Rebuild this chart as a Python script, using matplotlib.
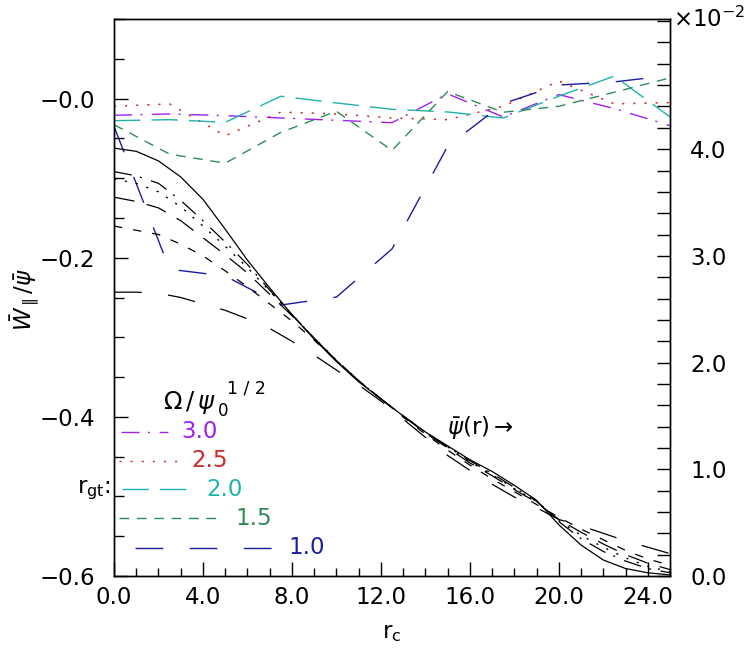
import matplotlib.pyplot as plt
from matplotlib.ticker import MultipleLocator

plt.rcParams['font.family'] = 'DejaVu Sans'
plt.rcParams['mathtext.fontset'] = 'dejavusans'
plt.rcParams['lines.scale_dashes'] = False

# W_par / psi for each r_gt value (left axis)
r_c = [0, 2.5, 5, 7.5, 10, 12.5, 15, 17.5, 20, 22.5, 25]
w_30 = [-0.021, -0.0193, -0.0215, -0.0244, -0.0273, -0.0303, 0.006, -0.0231, 0.005, -0.0126, -0.034]
w_25 = [-0.0097, -0.0067, -0.0467, -0.017, -0.0193, -0.0244, -0.0265, -0.0097, 0.022, -0.0067, -0.005]
w_20 = [-0.0278, -0.0265, -0.0299, 0.0029, -0.0055, -0.0135, -0.0168, -0.0244, 0.003, 0.0282, -0.0231]
w_15 = [-0.0328, -0.0698, -0.0812, -0.0425, -0.016, -0.0652, 0.0088, -0.0172, -0.0097, 0.008, 0.026]
w_10 = [-0.035, -0.2145, -0.223, -0.2595, -0.2495, -0.189, -0.060, -0.0063, 0.017, 0.021, 0.029]

# averaged psi profiles (right axis, x 1e-2)
r_psi = list(range(26))
psi_ref = [4.01, 3.98, 3.89, 3.74, 3.53, 3.25, 2.96, 2.70, 2.45, 2.22, 2.01, 1.82, 1.66,
           1.50, 1.35, 1.22, 1.09, 0.98, 0.85, 0.71, 0.48, 0.29, 0.15, 0.07, 0.03, 0.01]
psi_30 = [3.79, 3.75, 3.68, 3.52, 3.33, 3.13, 2.92, 2.68, 2.45, 2.23, 2.02, 1.83, 1.66,
          1.50, 1.35, 1.21, 1.08, 0.96, 0.83, 0.70, 0.51, 0.35, 0.23, 0.14, 0.07, 0.03]
psi_25 = [3.72, 3.68, 3.60, 3.46, 3.28, 3.09, 2.89, 2.67, 2.45, 2.23, 2.02, 1.83, 1.66,
          1.50, 1.35, 1.21, 1.07, 0.95, 0.82, 0.70, 0.52, 0.38, 0.27, 0.17, 0.09, 0.04]
psi_20 = [3.55, 3.51, 3.45, 3.33, 3.17, 3.01, 2.84, 2.64, 2.44, 2.23, 2.02, 1.83, 1.66,
          1.50, 1.34, 1.20, 1.06, 0.94, 0.81, 0.69, 0.53, 0.41, 0.30, 0.20, 0.12, 0.06]
psi_15 = [3.28, 3.24, 3.20, 3.11, 3.00, 2.86, 2.71, 2.55, 2.39, 2.21, 2.02, 1.83, 1.66,
          1.49, 1.33, 1.18, 1.04, 0.91, 0.79, 0.67, 0.55, 0.44, 0.34, 0.24, 0.16, 0.10]
psi_10 = [2.66, 2.66, 2.65, 2.61, 2.55, 2.49, 2.41, 2.32, 2.20, 2.07, 1.93, 1.79, 1.64,
          1.47, 1.30, 1.13, 0.99, 0.86, 0.74, 0.64, 0.53, 0.47, 0.40, 0.33, 0.27, 0.21]

legend_labels = ['3.0', '2.5', '2.0', '1.5', '1.0']

purple = '#a020f0'
red = '#cc2929'
cyan = '#20b2aa'
green = '#2e8b57'
blue = '#1c1ca0'

ls_dashdot = (0, (13, 6, 1.5, 7))
ls_dot = (0, (1.5, 6.5))
ls_long = (0, (19, 8))
ls_dash = (0, (7, 5.5))
ls_vlong = (0, (20, 19))

fs = 16.5

fig = plt.figure(figsize=(7.47, 6.56), dpi=100)
ax = fig.add_axes([114 / 747, 80 / 656, 556 / 747, 557 / 656])
ax2 = ax.twinx()

# coloured W curves
ax.plot(r_c, w_30, color=purple, lw=1.0, ls=ls_dashdot)
ax.plot(r_c, w_25, color=red, lw=1.1, ls=ls_dot)
ax.plot(r_c, w_20, color=cyan, lw=1.0, ls=ls_long)
ax.plot(r_c, w_15, color=green, lw=1.0, ls=ls_dash)
ax.plot(r_c, w_10, color=blue, lw=1.0, ls=ls_vlong)

# black psi curves
ax2.plot(r_psi, psi_ref, color='black', lw=0.9)
ax2.plot(r_psi, psi_30, color='black', lw=0.9, ls=ls_dashdot)
ax2.plot(r_psi, psi_25, color='black', lw=1.0, ls=ls_dot)
ax2.plot(r_psi, psi_20, color='black', lw=0.9, ls=(0, (15, 9)))
ax2.plot(r_psi, psi_15, color='black', lw=0.9, ls=(0, (6, 8)))
ax2.plot(r_psi, psi_10, color='black', lw=0.9, ls=ls_vlong)

# axes, ticks
ax.set_xlim(0, 25)
ax.set_ylim(-0.6, 0.1)
ax2.set_ylim(0, 5.22)

ax.set_xticks([0, 4, 8, 12, 16, 20, 24])
ax.set_xticklabels(['0.0', '4.0', '8.0', '12.0', '16.0', '20.0', '24.0'])
ax.xaxis.set_minor_locator(MultipleLocator(1))
ax.set_yticks([-0.6, -0.4, -0.2, 0.0])
ax.set_yticklabels(['\u22120.6', '\u22120.4', '\u22120.2', '\u22120.0'])
ax.yaxis.set_minor_locator(MultipleLocator(0.05))
ax2.set_yticks([0, 1, 2, 3, 4])
ax2.set_yticklabels(['0.0', '1.0', '2.0', '3.0', '4.0'])
ax2.yaxis.set_minor_locator(MultipleLocator(0.2))

ax.tick_params(axis='x', which='both', direction='in', top=False, labelsize=fs, pad=7.5, width=1)
ax.tick_params(axis='x', which='major', length=10)
ax.tick_params(axis='x', which='minor', length=6)
ax.tick_params(axis='y', which='both', direction='in', right=False, labelsize=fs, pad=13.5, width=1)
ax.tick_params(axis='y', which='major', length=10)
ax.tick_params(axis='y', which='minor', length=7)
ax2.tick_params(axis='y', which='both', direction='in', labelsize=fs, pad=14.5, width=1, length=9.5)

for a in (ax, ax2):
    for s in a.spines.values():
        s.set_linewidth(1.0)

# labels
fig.text(25 / 747, 0.543, r'$\bar{W}_{\parallel}/\bar{\psi}$', rotation=90,
         ha='center', va='center', fontsize=fs)
ax.set_xlabel(r'r$_{\rm c}$', fontsize=fs, labelpad=8)
fig.text(673 / 747, 1 - 27 / 656, r'$\times10^{-2}$', ha='left', va='baseline', fontsize=fs)
ax.text(0.599, 0.2675, r'$\bar{\psi}$(r)$\rightarrow$', transform=ax.transAxes,
        ha='left', va='center', fontsize=fs)

# legend, drawn by hand
ax.text(0.088, 0.312, r'$\Omega\,/\,\psi$', transform=ax.transAxes,
        ha='left', va='center', fontsize=17.5)
ax.text(0.187, 0.296, '0', transform=ax.transAxes,
        ha='left', va='center', fontsize=12)
ax.text(0.204, 0.336, '1 / 2', transform=ax.transAxes,
        ha='left', va='center', fontsize=12.5)
ax.text(-0.006, 0.154, r'r$_{\rm gt}$:', transform=ax.transAxes,
        ha='right', va='center', fontsize=fs, clip_on=False)
leg_colors = [purple, red, cyan, green, blue]
leg_styles = [ls_dashdot, ls_dot, ls_long, ls_dash, ls_vlong]
leg_y = [0.259, 0.2065, 0.156, 0.104, 0.0508]
leg_x0 = [0.0126, 0.009, 0.0144, 0.009, 0.0378]
leg_x1 = [0.097, 0.115, 0.135, 0.19, 0.284]
leg_tx = [0.1205, 0.1385, 0.167, 0.2176, 0.313]
for lab, c, st, y, x0, x1, tx in zip(legend_labels, leg_colors, leg_styles, leg_y, leg_x0, leg_x1, leg_tx):
    ax.plot([x0, x1], [y, y], transform=ax.transAxes, color=c, lw=1.0, ls=st)
    ax.text(tx, y, lab, transform=ax.transAxes, color=c, ha='left', va='center', fontsize=fs)

fig.savefig('out.png', dpi=100)
